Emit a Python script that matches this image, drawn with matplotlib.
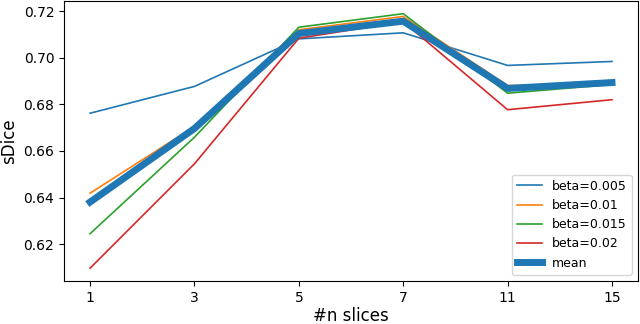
import matplotlib
matplotlib.use("Agg")
import matplotlib.pyplot as plt
import numpy as np

n_slices = ["1", "3", "5", "7", "11", "15"]
betas = ["beta=0.005", "beta=0.01", "beta=0.015", "beta=0.02"]
sdice_b005 = [0.6762, 0.6877, 0.7081, 0.7107, 0.6967, 0.6984]
sdice_b01 = [0.6419, 0.6705, 0.7120, 0.7177, 0.6881, 0.6885]
sdice_b015 = [0.6245, 0.6659, 0.7131, 0.7189, 0.6848, 0.6885]
sdice_b02 = [0.6097, 0.6545, 0.7084, 0.7155, 0.6777, 0.6820]

series = [sdice_b005, sdice_b01, sdice_b015, sdice_b02]
mean = np.mean(np.array(series), axis=0)

fig, ax = plt.subplots(figsize=(6.4, 3.24), dpi=100)
x = np.arange(len(n_slices))
for vals, lab in zip(series, betas):
    ax.plot(x, vals, linewidth=1.2, label=lab)
ax.plot(x, mean, color="#1f77b4", linewidth=5, label="mean")

ax.set_xticks(x)
ax.set_xticklabels(n_slices)
ax.set_xlabel("#n slices", fontsize=12, labelpad=1.5)
ax.set_ylabel("sDice", fontsize=12)
ax.legend(loc="lower right", fontsize=9)
fig.subplots_adjust(left=0.1, right=0.997, bottom=0.133, top=0.997)
fig.savefig("out.png", dpi=100)
